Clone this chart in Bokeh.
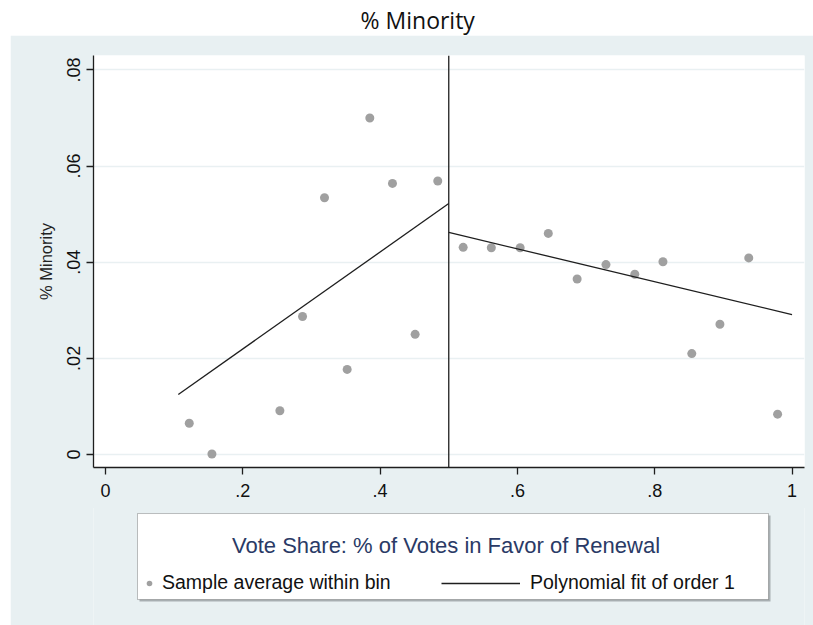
from bokeh.plotting import figure
from bokeh.models import (Range1d, FixedTicker, Span, Legend, LegendItem,
                          ColumnDataSource, Label, BoxAnnotation)
from bokeh.layouts import column
from bokeh.embed import file_html
from bokeh.resources import INLINE

# Binned sample averages of the minority share, below and above the 50% threshold
left_bin_x = [0.122, 0.155, 0.254, 0.287, 0.319, 0.352, 0.385, 0.418, 0.451, 0.484]
left_bin_y = [0.0065, 0.0001, 0.0091, 0.0287, 0.0534, 0.0177, 0.0700, 0.0564, 0.0250, 0.0569]
right_bin_x = [0.521, 0.562, 0.604, 0.645, 0.687, 0.729, 0.771, 0.812, 0.854, 0.895, 0.937, 0.979]
right_bin_y = [0.0431, 0.0430, 0.0430, 0.0460, 0.0365, 0.0395, 0.0375, 0.0401, 0.0210, 0.0271, 0.0409, 0.0084]

# Order-1 polynomial fits on each side of the threshold
left_fit_x = [0.106, 0.5]
left_fit_y = [0.0125, 0.0522]
right_fit_x = [0.5, 1.0]
right_fit_y = [0.0462, 0.0291]

threshold = 0.5

x_ticks = [0, 0.2, 0.4, 0.6, 0.8, 1]
x_tick_labels = ["0", ".2", ".4", ".6", ".8", "1"]
y_ticks = [0, 0.02, 0.04, 0.06, 0.08]
y_tick_labels = ["0", ".02", ".04", ".06", ".08"]

title_text = "% Minority"
y_title = "% Minority"
x_title = "Vote Share: % of Votes in Favor of Renewal"
point_label = "Sample average within bin"
fit_label = "Polynomial fit of order 1"

PANEL = "#E8F0F2"
GRID = "#E9F0F2"
INK = "#1E1E1E"
NAVY = "#2A3A66"
DOT = "#A0A0A0"
FONT = "Liberation Sans, Arial, sans-serif"

# The three stacked figures share the same width and left margin so that
# the column lines their frames up identically.
FIG_W = 803

# ---- heading strip -------------------------------------------------------
head = figure(width=FIG_W, height=35, x_range=Range1d(0, 1), y_range=Range1d(0, 1),
              toolbar_location=None, output_backend="svg", min_border=0,
              x_axis_location=None, y_axis_location=None, margin=(0, 0, 0, 10))
head.outline_line_color = None
head.grid.visible = False
head.background_fill_color = "white"
head.border_fill_color = "white"
head.add_layout(Label(x=0.456, y=0.45, text=title_text, text_align="center",
                      text_baseline="middle", text_font="Open Sans",
                      text_font_size="23px", text_color="#111111"))

# ---- plotting panel ------------------------------------------------------
p = figure(width=FIG_W, height=473,
           x_range=Range1d(-0.0175, 1.0182), y_range=Range1d(-0.0027, 0.0830),
           toolbar_location=None, output_backend="svg",
           min_border_left=83, min_border_right=9, min_border_top=20,
           min_border_bottom=41, margin=(0, 0, 0, 10))
p.border_fill_color = PANEL
p.background_fill_color = "white"
p.outline_line_color = None

p.xgrid.visible = False
p.ygrid.ticker = FixedTicker(ticks=y_ticks)
p.ygrid.grid_line_color = GRID
p.ygrid.grid_line_width = 1.5

p.xaxis.ticker = FixedTicker(ticks=x_ticks)
p.xaxis.major_label_overrides = dict(zip(x_ticks, x_tick_labels))
p.yaxis.ticker = FixedTicker(ticks=y_ticks)
p.yaxis.major_label_overrides = dict(zip(y_ticks, y_tick_labels))
p.yaxis.major_label_orientation = "vertical"

for ax in (p.xaxis[0], p.yaxis[0]):
    ax.axis_line_color = INK
    ax.axis_line_width = 1.3
    ax.major_tick_line_color = INK
    ax.major_tick_line_width = 1.3
    ax.major_tick_out = 7
    ax.major_tick_in = 0
    ax.minor_tick_line_color = None
    ax.major_label_text_font = FONT
    ax.major_label_text_font_size = "18px"
    ax.major_label_text_color = "#111111"

p.xaxis.major_label_standoff = 9
p.yaxis.major_label_standoff = 6

p.yaxis.axis_label = y_title
p.yaxis.axis_label_text_font = FONT
p.yaxis.axis_label_text_font_size = "16.5px"
p.yaxis.axis_label_text_font_style = "normal"
p.yaxis.axis_label_text_color = "#222222"
p.yaxis.axis_label_standoff = 10

left_pts = ColumnDataSource(dict(x=left_bin_x, y=left_bin_y))
right_pts = ColumnDataSource(dict(x=right_bin_x, y=right_bin_y))
left_fit = ColumnDataSource(dict(x=left_fit_x, y=left_fit_y))
right_fit = ColumnDataSource(dict(x=right_fit_x, y=right_fit_y))

p.scatter("x", "y", source=left_pts, size=9, fill_color=DOT, line_color=None)
p.scatter("x", "y", source=right_pts, size=9, fill_color=DOT, line_color=None)
p.line("x", "y", source=left_fit, line_color=INK, line_width=1.3)
p.line("x", "y", source=right_fit, line_color=INK, line_width=1.3)

p.add_layout(Span(location=threshold, dimension="height", line_color=INK, line_width=1.3))

# ---- key box: horizontal-axis title plus the two legend entries ----------
# pulled up one pixel so it overlaps the plotting panel without a seam
q = figure(width=FIG_W, height=118, x_range=Range1d(0, 1), y_range=Range1d(0, 1),
           toolbar_location=None, output_backend="svg", min_border=0,
           x_axis_location=None, y_axis_location=None, margin=(-1, 0, 0, 10))
q.border_fill_color = PANEL
q.background_fill_color = PANEL
q.outline_line_color = None
q.grid.visible = False

# soft drop shadow, then the white key frame itself
q.add_layout(BoxAnnotation(left=0.0647, right=0.9522, top=0.932, bottom=0.203,
                           fill_color="#A9B0B3", fill_alpha=1.0, line_color=None))
q.add_layout(BoxAnnotation(left=0.0619, right=0.9494, top=0.949, bottom=0.220,
                           fill_color="white", fill_alpha=1.0,
                           line_color="#333333", line_width=1))

q.add_layout(Label(x=0.4958, y=0.678, text=x_title, text_align="center",
                   text_baseline="middle", text_font=FONT,
                   text_font_size="22px", text_color=NAVY))

# hidden key renderers: they carry the styling the legend swatches are drawn with
k_pts = q.scatter("x", "y", source=left_pts, size=9, fill_color=DOT,
                  line_color=None, visible=False)
k_fit = q.line("x", "y", source=left_fit, line_color=INK, line_width=1.3,
               visible=False)

common = dict(orientation="horizontal", padding=0, spacing=0, margin=0,
              label_text_font=FONT, label_text_font_size="19.5px",
              label_text_color="#111111", glyph_height=20, label_height=20,
              border_line_color=None, background_fill_alpha=0.0,
              inactive_fill_alpha=0.0)

q.add_layout(Legend(items=[LegendItem(label=point_label, renderers=[k_pts])],
                    location=(49, 31), glyph_width=14, label_standoff=6, **common))
q.add_layout(Legend(items=[LegendItem(label=fit_label, renderers=[k_fit])],
                    location=(348, 31), glyph_width=79, label_standoff=10, **common))

page = column(head, p, q, spacing=0)

with open("out.html", "w") as f:
    f.write(file_html(page, INLINE))
